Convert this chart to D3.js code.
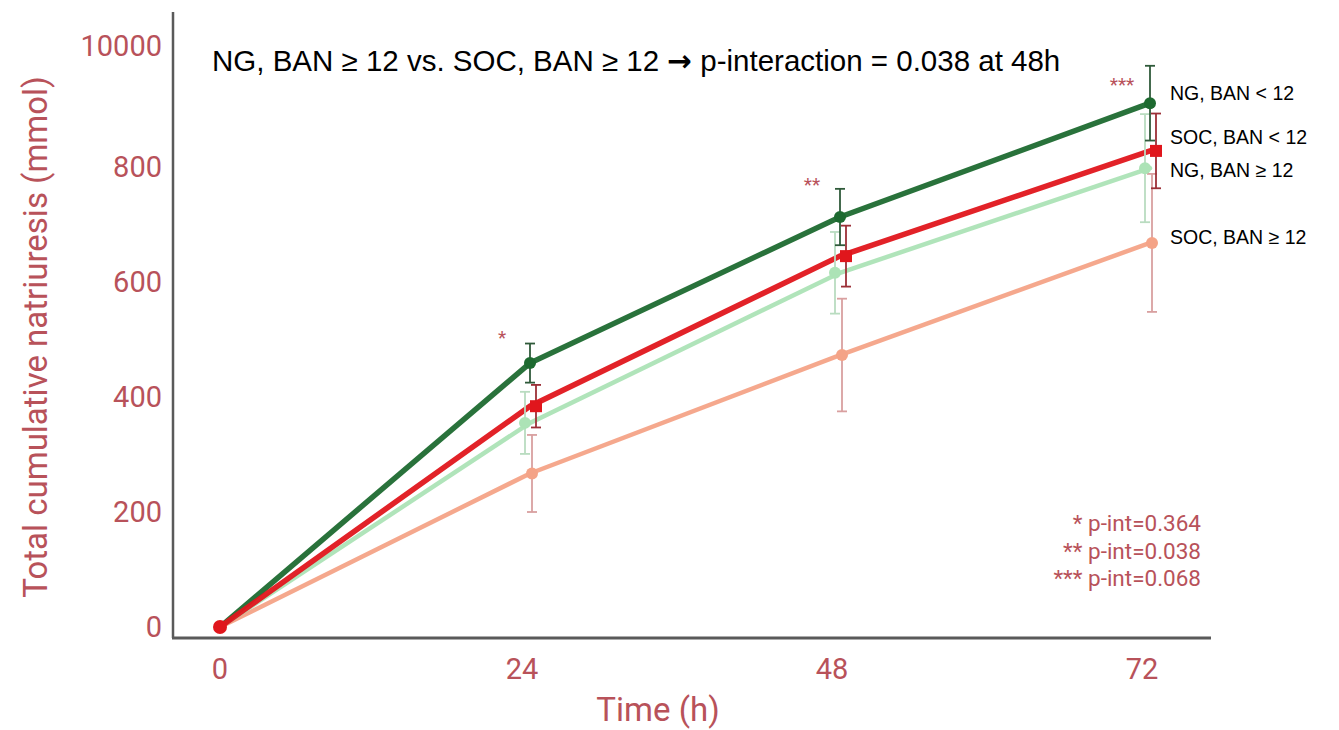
<!DOCTYPE html>
<html>
<head>
<meta charset="utf-8">
<script src="https://cdn.jsdelivr.net/npm/d3@7"></script>
<style>
  body { margin: 0; background: #fff; }
  svg { display: block; }
</style>
</head>
<body>
<svg id="chart" width="1339" height="730"></svg>
<script>
// data
const hours = [0, 24, 48, 72]
const yTicks = [0, 200, 400, 600, 800, 1000]
const yTickLabels = ["0", "200", "400", "600", "800", "10000"]

const ngLow = [0, 459, 713, 911]       // NG, BAN < 12
const ngLowErr = [0, 34, 49, 65]
const socLow = [0, 384, 645, 828]      // SOC, BAN < 12
const socLowErr = [0, 37, 53, 65]
const ngHigh = [0, 355, 616, 798]      // NG, BAN >= 12
const ngHighErr = [0, 54, 71, 94]
const socHigh = [0, 267, 473, 668]     // SOC, BAN >= 12
const socHighErr = [0, 67, 98, 120]

const stars = ["", "*", "**", "***"]
const starValues = [0, 492, 758, 932]
const pNotes = ["* p-int=0.364", "** p-int=0.038", "*** p-int=0.068"]
const titleA = "NG, BAN \u2265 12 vs. SOC, BAN \u2265 12 "
const titleB = " p-interaction = 0.038 at 48h"

const series = [
    {name: "SOC, BAN \u2265 12", values: socHigh, err: socHighErr, line: "#f4a387", bar: "#d9a0a0", dx: 2, w: 4.5, labelY: 678},
    {name: "NG, BAN \u2265 12", values: ngHigh, err: ngHighErr, line: "#ace3b6", bar: "#b9dcc0", dx: -5, w: 4.5, labelY: 795},
    {name: "NG, BAN < 12", values: ngLow, err: ngLowErr, line: "#1d6a30", bar: "#2f5a3a", dx: 0, w: 5.5, labelY: 928},
    {name: "SOC, BAN < 12", values: socLow, err: socLowErr, line: "#e0161c", bar: "#9c2f37", dx: 6, w: 5.5, labelY: 853, square: true}
]

const svg = d3.select("#chart")
const axisColor = "#5a5a5a"
const labelColor = "#b8525a"

let x = d3.scaleLinear().domain([0, 72]).range([220, 1150])
let y = d3.scaleLinear().domain([0, 1000]).range([627, 52])

// axes
svg.append("line")
    .attr("x1", 173).attr("x2", 173).attr("y1", 12).attr("y2", 638)
    .attr("stroke", axisColor).attr("stroke-width", 2.5)
svg.append("line")
    .attr("x1", 172).attr("x2", 1211).attr("y1", 638).attr("y2", 638)
    .attr("stroke", axisColor).attr("stroke-width", 3)

svg.append("g").selectAll("text")
    .data(yTicks)
    .enter()
    .append("text")
    .attr("x", 162)
    .attr("y", d => y(d) - (d === 1000 ? 6 : 0))
    .attr("dy", "0.36em")
    .attr("text-anchor", "end")
    .attr("font-family", "Roboto")
    .attr("font-size", 29)
    .attr("fill", labelColor)
    .text((d, i) => yTickLabels[i])

svg.append("g").selectAll("text")
    .data(hours)
    .enter()
    .append("text")
    .attr("x", d => x(d) - (d === 0 ? 0 : 8))
    .attr("y", 679)
    .attr("text-anchor", "middle")
    .attr("font-family", "Roboto")
    .attr("font-size", 29)
    .attr("fill", labelColor)
    .text(d => d)

svg.append("text")
    .attr("x", 658).attr("y", 721)
    .attr("text-anchor", "middle")
    .attr("font-family", "Roboto")
    .attr("font-size", 33)
    .attr("fill", labelColor)
    .text("Time (h)")

svg.append("text")
    .attr("transform", "translate(47, 337) rotate(-90)")
    .attr("text-anchor", "middle")
    .attr("font-family", "Roboto")
    .attr("font-size", 33)
    .attr("fill", labelColor)
    .text("Total cumulative natriuresis (mmol)")

// title
let title = svg.append("text")
    .attr("x", 212).attr("y", 71)
    .attr("font-family", "Liberation Sans, Arial")
    .attr("font-size", 29.5)
    .attr("fill", "#000")
title.append("tspan").text(titleA)
title.append("tspan")
    .attr("font-family", "DejaVu Sans")
    .attr("font-weight", "bold")
    .text("\u2192")
title.append("tspan").text(titleB)

// lines
let line = d3.line()
    .x((d, i) => x(hours[i]))
    .y(d => y(d))

series.forEach(s => {
    svg.append("path")
        .datum(s.values)
        .attr("d", line)
        .attr("fill", "none")
        .attr("stroke", s.line)
        .attr("stroke-width", s.w)
        .attr("stroke-linecap", "round")
        .attr("stroke-opacity", 0.95)
})

// error bars and markers
series.forEach(s => {
    let g = svg.append("g")
    let pts = s.values.map((v, i) => ({h: hours[i], v: v, e: s.err[i]})).filter(d => d.h > 0)
    let bars = g.selectAll(".bar").data(pts).enter().append("g")
    bars.append("line")
        .attr("x1", d => x(d.h) + s.dx).attr("x2", d => x(d.h) + s.dx)
        .attr("y1", d => y(d.v + d.e)).attr("y2", d => y(d.v - d.e))
        .attr("stroke", s.bar).attr("stroke-width", 1.8)
    bars.append("line")
        .attr("x1", d => x(d.h) + s.dx - 5).attr("x2", d => x(d.h) + s.dx + 5)
        .attr("y1", d => y(d.v + d.e)).attr("y2", d => y(d.v + d.e))
        .attr("stroke", s.bar).attr("stroke-width", 1.8)
    bars.append("line")
        .attr("x1", d => x(d.h) + s.dx - 5).attr("x2", d => x(d.h) + s.dx + 5)
        .attr("y1", d => y(d.v - d.e)).attr("y2", d => y(d.v - d.e))
        .attr("stroke", s.bar).attr("stroke-width", 1.8)
    if (s.square) {
        bars.append("rect")
            .attr("x", d => x(d.h) + s.dx - 6).attr("y", d => y(d.v) - 6)
            .attr("width", 12).attr("height", 12)
            .attr("fill", s.line)
    } else {
        bars.append("circle")
            .attr("cx", d => x(d.h) + s.dx).attr("cy", d => y(d.v))
            .attr("r", 6)
            .attr("fill", s.line)
    }
})

// origin point
svg.append("circle")
    .attr("cx", x(0)).attr("cy", y(0))
    .attr("r", 7)
    .attr("fill", "#e0161c")

// series labels
series.forEach(s => {
    svg.append("text")
        .attr("x", 1170)
        .attr("y", y(s.labelY))
        .attr("dy", "0.36em")
        .attr("font-family", "Liberation Sans, Arial")
        .attr("font-size", 19.5)
        .attr("fill", "#000")
        .text(s.name)
})

// significance stars
svg.append("g").selectAll("text")
    .data(hours.slice(1))
    .enter()
    .append("text")
    .attr("x", d => x(d) - 28)
    .attr("y", (d, i) => y(starValues[i + 1]))
    .attr("text-anchor", "middle")
    .attr("font-family", "Roboto")
    .attr("font-size", 19)
    .attr("fill", labelColor)
    .text((d, i) => stars[i + 1])

// p-interaction notes
svg.append("g").selectAll("text")
    .data(pNotes)
    .enter()
    .append("text")
    .attr("x", 1201)
    .attr("y", (d, i) => 531 + i * 27.5)
    .attr("text-anchor", "end")
    .attr("font-family", "Roboto")
    .attr("font-size", 22.5)
    .attr("fill", labelColor)
    .text(d => d)
</script>
</body>
</html>
